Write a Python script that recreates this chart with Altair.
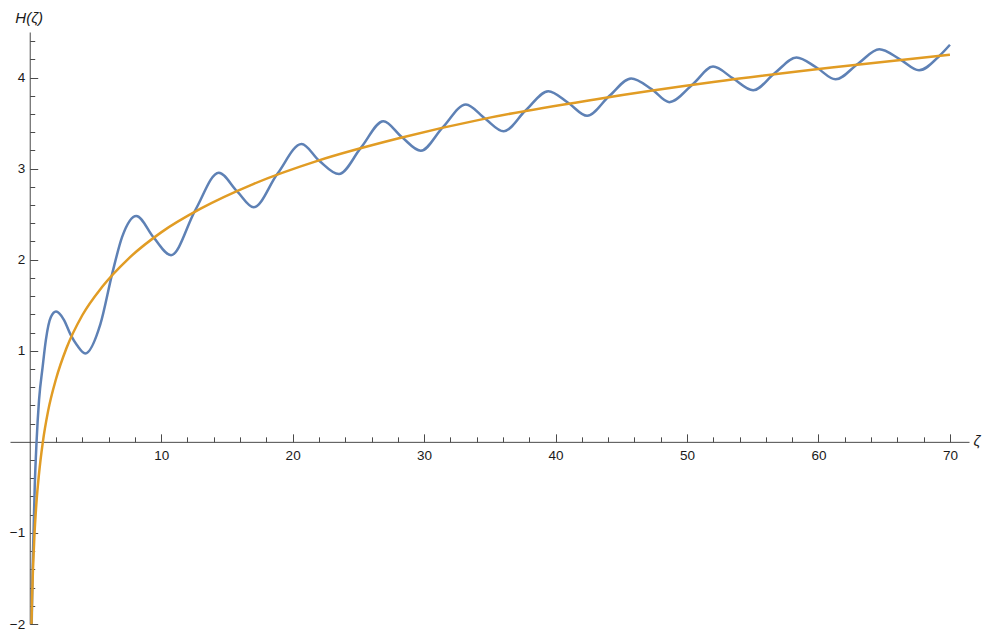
import altair as alt
import pandas as pd

# ---- data ----
blue_x = [0.15, 0.22, 0.29, 0.38, 0.52, 0.71, 0.98, 1.23, 1.61, 2.0, 2.6, 3.1, 3.6, 4.23,
          5.37, 6.28, 7.03, 8.11, 9.42, 10.75, 12.6, 14.38, 15.78, 17.04, 18.83, 20.68,
          22.0, 23.52, 25.2, 26.9, 28.28, 29.75, 31.4, 33.18, 34.63, 36.05, 37.7, 39.45,
          40.98, 42.4, 44.1, 45.75, 47.33, 48.65, 50.46, 51.98, 53.5, 55.03, 56.68, 58.33,
          59.85, 61.3, 63.03, 64.63, 66.2, 67.65, 69.25, 70.0]
blue_y = [-2.0, -1.4, -1.0, -0.5, 0.0, 0.46, 0.82, 1.12, 1.37, 1.43, 1.34, 1.18, 1.06, 0.97,
          1.29, 1.85, 2.25, 2.48, 2.245, 2.05, 2.545, 2.955, 2.75, 2.575, 2.94, 3.27,
          3.09, 2.94, 3.23, 3.52, 3.35, 3.196, 3.45, 3.705, 3.55, 3.41, 3.635, 3.85,
          3.72, 3.58, 3.80, 3.99, 3.87, 3.73, 3.93, 4.12, 3.99, 3.86, 4.05, 4.22,
          4.11, 3.98, 4.155, 4.31, 4.20, 4.08, 4.245, 4.36]

orange_x = [0.135, 0.18, 0.25, 0.35, 0.5, 0.7, 1.0, 1.4, 2.0, 2.8, 4.0, 5.5, 7.5, 10.0,
            13.0, 17.0, 22.0, 28.0, 35.0, 43.0, 52.0, 61.0, 70.0]
orange_y = [-2.0, -1.71, -1.39, -1.05, -0.69, -0.36, 0.0, 0.34, 0.69, 1.03, 1.39, 1.70,
            2.01, 2.30, 2.56, 2.83, 3.09, 3.33, 3.56, 3.76, 3.95, 4.11, 4.25]

x_major = [10, 20, 30, 40, 50, 60, 70]
x_minor = [2, 4, 6, 8, 12, 14, 16, 18, 22, 24, 26, 28, 32, 34, 36, 38, 42, 44, 46, 48,
           52, 54, 56, 58, 62, 64, 66, 68]
y_major = [-2, -1, 1, 2, 3, 4]
y_minor = [-1.8, -1.6, -1.4, -1.2, -0.8, -0.6, -0.4, -0.2, 0.2, 0.4, 0.6, 0.8,
           1.2, 1.4, 1.6, 1.8, 2.2, 2.4, 2.6, 2.8, 3.2, 3.4, 3.6, 3.8, 4.2, 4.4]

# ---- layout ----
BLUE = "#5E81B5"
ORANGE = "#E19C24"
AXIS = "#4a4a4a"
FONT = "Liberation Sans"
X_DOMAIN = [-1.5, 71.45]
Y_DOMAIN = [-2.0, 4.5]
W, H = 959, 592

x0_left = W * (0 - X_DOMAIN[0]) / (X_DOMAIN[1] - X_DOMAIN[0])
y0_top = H * (Y_DOMAIN[1] - 0) / (Y_DOMAIN[1] - Y_DOMAIN[0])

xscale = alt.Scale(domain=X_DOMAIN, nice=False, zero=False)
yscale = alt.Scale(domain=Y_DOMAIN, nice=False, zero=False)

blue_df = pd.DataFrame({"z": blue_x, "h": blue_y})
orange_df = pd.DataFrame({"z": orange_x, "h": orange_y})

# labels + axis lines
base = alt.Chart(blue_df).mark_line(
    color=BLUE, strokeWidth=2.5, interpolate="monotone", clip=True
).encode(
    x=alt.X("z:Q", scale=xscale, axis=alt.Axis(
        orient="bottom", offset=-(H - y0_top), values=x_major, ticks=False, tickSize=0,
        labelPadding=7, labelFont=FONT, labelFontSize=13.5, labelColor="#1a1a1a",
        labelFlush=False, labelOverlap=False, domainColor=AXIS, domainWidth=1,
        grid=False, title="ζ", titleFont=FONT, titleFontSize=15, titleFontStyle="italic",
        titleFontWeight="normal", titleColor="#1a1a1a", titleAngle=0, titleAlign="left",
        titleBaseline="alphabetic", titleX=W + 4, titleY=4)),
    y=alt.Y("h:Q", scale=yscale, axis=alt.Axis(
        orient="left", offset=-x0_left, values=y_major, ticks=False, tickSize=0,
        labelPadding=5, labelFont=FONT, labelFontSize=13.5, labelColor="#1a1a1a",
        labelFlush=False, labelOverlap=False, domainColor=AXIS, domainWidth=1,
        grid=False, title="H(ζ)", titleFont=FONT, titleFontSize=15, titleFontStyle="italic",
        titleFontWeight="normal", titleColor="#1a1a1a", titleAngle=0, titleAlign="center",
        titleBaseline="alphabetic", titleX=-1, titleY=-10)),
)

# major ticks (pointing into the plot)
major = alt.Chart(orange_df).mark_line(
    color=ORANGE, strokeWidth=2.5, interpolate="monotone", clip=True
).encode(
    x=alt.X("z:Q", scale=xscale, axis=alt.Axis(
        orient="top", offset=-y0_top, values=x_major, labels=False, domain=False,
        ticks=True, tickSize=8, tickColor=AXIS, tickWidth=1, grid=False, title=None)),
    y=alt.Y("h:Q", scale=yscale, axis=alt.Axis(
        orient="right", offset=-(W - x0_left), values=y_major, labels=False, domain=False,
        ticks=True, tickSize=8, tickColor=AXIS, tickWidth=1, grid=False, title=None)),
)

# minor ticks
minor = alt.Chart(orange_df).mark_line(strokeOpacity=0, clip=True).encode(
    x=alt.X("z:Q", scale=xscale, axis=alt.Axis(
        orient="top", offset=-y0_top, values=x_minor, labels=False, domain=False,
        ticks=True, tickSize=5, tickColor=AXIS, tickWidth=1, grid=False, title=None)),
    y=alt.Y("h:Q", scale=yscale, axis=alt.Axis(
        orient="right", offset=-(W - x0_left), values=y_minor, labels=False, domain=False,
        ticks=True, tickSize=5, tickColor=AXIS, tickWidth=1, grid=False, title=None)),
)

chart = alt.layer(base, major, minor).resolve_axis(
    x="independent", y="independent"
).properties(
    width=W, height=H,
    autosize=alt.AutoSizeParams(type="none"),
    padding={"left": 2, "top": 24, "right": 13, "bottom": 6},
).configure_view(stroke="transparent")

chart.save("out.html", embed_options={"renderer": "svg", "actions": False})
